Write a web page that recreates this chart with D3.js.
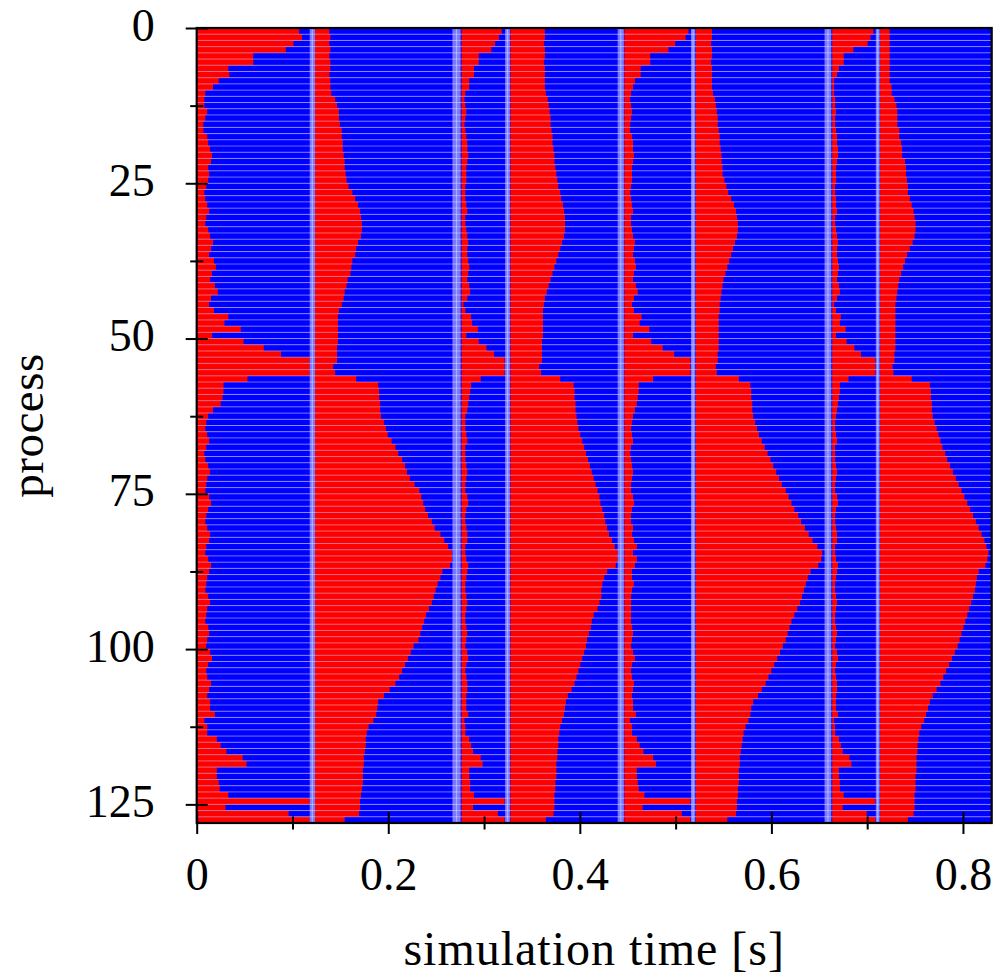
<!DOCTYPE html>
<html><head><meta charset="utf-8">
<script src="https://cdn.jsdelivr.net/npm/d3@7"></script>
<style>body{margin:0;background:#fff}svg{display:block}</style>
</head><body>
<svg id="c" width="994" height="977"></svg>
<script>
// ---------------- data ----------------
const processes = d3.range(128);
const xTicks = [0, 0.2, 0.4, 0.6, 0.8];
const xMinorTicks = [0.1, 0.3, 0.5, 0.7];
const yTicks = [0, 25, 50, 75, 100, 125];
const yMinorTicks = [12.5, 37.5, 62.5, 87.5, 112.5];
const xLabel = "simulation time [s]";
const yLabel = "process";
// start time (s) of each compute phase: small1, bulge1, small2, bulge2, small3, bulge3, small4, bulge4
const phaseStarts = [0, 0.1235, 0.2765, 0.3275, 0.4465, 0.521, 0.6635, 0.7135];
// synchronisation stripes [t0, t1] (s)
const syncStripes = [[0.118,0.1235],[0.267,0.2755],[0.322,0.327],[0.4395,0.446],[0.516,0.5205],[0.6555,0.6625],[0.709,0.713]];
// compute durations per process (ms)
const small1 = [107,110,101,93,59,59,33,34,23,17, 9,8,8,11,9,7,7,11,12,14, 16,15,12,13,12,10,8,9,11,13,
  10,9,12,14,17,15,13,18,20,16, 14,19,22,15,13,18,33,29,46,16, 49,70,88,118,118,118,53,28,28,27,
  25,17,12,10,9,11,13,10,8,9, 12,14,11,10,9,13,15,12,10,9, 11,14,13,10,9,12,15,13,11,10,
  9,12,14,11,10,9,12,13,11,10, 14,16,12,10,11,15,13,11,14,14, 19,8,11,11,21,25,31,48,52,21,
  21,23,24,33,118,30,96,118];
const bulge1 = [15,16,15,16,15,16,16,15,16,16, 17,21,23,25,25,26,28,28,29,29, 30,31,31,32,33,35,39,42,45,47,
  48,49,49,48,45,43,42,39,38,37, 34,33,31,30,28,25,24,24,24,24, 24,23,23,23,19,21,43,66,67,67,
  68,68,69,72,74,76,80,84,87,91, 94,96,99,104,109,111,113,115,118,122, 125,131,135,139,143,143,141,133,131,128,
  126,124,122,119,116,114,112,110,108,103, 100,97,94,91,88,84,78,72,66,65, 64,61,56,54,53,53,52,51,51,50,
  50,50,49,48,47,47,46,31];
const small2 = [42,39,35,31,18,18,13,13,8,8, 4,3,4,5,4,3,4,5,6,6, 7,6,5,5,5,4,4,4,5,6,
  4,4,5,6,7,6,6,7,8,7, 6,8,9,6,2,4,10,11,17,5, 18,26,34,45,45,45,20,10,9,8,
  7,6,4,4,4,5,6,4,4,4, 5,6,5,4,4,6,7,5,4,4, 5,6,6,4,4,5,7,6,5,4,
  4,5,6,5,4,4,5,6,5,4, 6,7,5,4,5,6,6,5,5,5, 7,3,4,4,8,10,12,20,22,8,
  8,9,9,13,45,12,38,45];
const bulge2 = [36,36,35,36,36,35,36,36,36,36, 37,39,40,41,42,42,43,44,44,45, 46,46,47,48,49,50,52,53,55,56,
  57,57,57,56,54,52,50,48,46,44, 42,40,38,36,35,34,34,34,34,34, 33,33,33,33,30,32,52,66,67,67,
  68,68,69,70,71,73,75,77,79,81, 83,85,87,89,91,93,94,96,98,99, 101,103,106,109,112,112,110,101,98,96,
  95,95,93,91,87,85,84,82,80,79, 77,75,73,71,69,67,64,60,58,57, 56,54,52,51,50,50,49,49,48,48,
  48,47,47,46,46,46,45,37];
const small3 = [67,64,53,46,27,27,17,17,11,9, 7,6,7,8,7,6,6,8,9,9, 10,9,8,8,8,7,6,7,8,9,
  7,7,8,9,11,10,9,11,12,10, 9,12,14,10,8,10,18,16,26,9, 28,40,52,69,69,69,30,15,15,14,
  13,11,9,8,7,8,9,7,6,7, 8,9,8,7,7,9,10,8,7,7, 9,8,10,13,9,13,11,8,8,10,
  8,7,7,7,7,7,8,9,8,7, 9,11,8,7,8,10,9,8,9,9, 12,6,8,8,13,16,20,30,33,13,
  13,14,15,21,69,19,60,69];
const bulge3 = [17,17,16,17,17,16,17,17,17,17, 18,20,21,22,23,23,24,25,25,26, 27,27,28,28,30,32,34,37,40,42,
  43,44,44,43,41,39,37,35,33,31, 29,28,27,26,25,25,24,24,24,24, 24,24,23,23,21,22,45,57,58,58,
  59,59,60,62,64,66,69,72,75,78, 81,84,87,90,94,97,100,103,107,110, 114,118,122,127,132,131,128,120,117,115,
  113,111,109,106,103,100,98,96,94,91, 88,85,82,79,76,73,69,65,60,58, 57,55,52,50,49,48,47,46,46,45,
  45,45,44,44,43,43,42,33];
const small4 = [43,40,37,22,12,12,7,5,2,2, 2,3,3,4,3,3,4,5,5,6, 6,5,4,4,4,3,3,4,4,5,
  3,3,4,5,6,5,5,6,7,6, 5,7,8,5,2,4,9,8,14,4, 15,23,30,45,45,45,17,8,8,7,
  6,5,4,3,3,4,5,3,3,3, 4,5,4,3,3,5,6,4,3,3, 4,5,5,3,3,4,6,5,4,3,
  3,4,5,4,3,3,4,5,4,3, 5,6,4,3,4,5,5,4,4,4, 6,2,3,3,7,9,11,18,20,7,
  7,8,8,12,45,11,36,45];
const bulge4 = [10,10,10,10,10,10,10,10,10,12, 12,15,17,18,18,18,20,20,22,23, 23,26,27,27,28,29,29,31,33,35,
  36,37,37,36,34,31,28,26,24,22, 20,19,18,17,16,16,16,16,16,16, 16,16,15,15,13,14,33,52,53,53,
  54,54,55,57,59,61,63,65,68,70, 73,76,79,82,85,88,91,94,97,100, 103,106,109,111,113,112,110,103,101,100,
  99,97,95,93,91,89,87,85,83,81, 78,75,72,69,66,63,59,55,52,50, 48,46,43,41,40,39,39,38,38,38,
  37,37,37,36,36,36,35,29];
const computePhases = [small1, bulge1, small2, bulge2, small3, bulge3, small4, bulge4];
const tMax = 0.83;

// ---------------- drawing ----------------
const svg = d3.select('#c');
const x = d3.scaleLinear().domain([0, tMax]).range([196.7, 991.7]);
const y = d3.scaleLinear().domain([0, 128]).range([28, 823]);
const rowH = y(1) - y(0);
const FONT = "'Liberation Serif', 'Times New Roman', serif";

// waiting (blue) background per process
svg.append('g').selectAll('rect').data(processes).join('rect')
  .attr('x', x(0)).attr('y', d => y(d)).attr('width', x(tMax) - x(0)).attr('height', rowH)
  .attr('fill', '#0000ff');

// compute (red) segments
const segs = [];
computePhases.forEach((arr, k) => arr.forEach((ms, p) => segs.push({p, t0: phaseStarts[k], t1: phaseStarts[k] + ms / 1000})));
svg.append('g').selectAll('rect').data(segs).join('rect')
  .attr('x', d => x(d.t0)).attr('y', d => y(d.p)).attr('width', d => x(d.t1) - x(d.t0)).attr('height', rowH)
  .attr('fill', '#ff0000');

// sync stripes
const sg = svg.append('g');
sg.selectAll('rect').data(syncStripes).join('rect')
  .attr('x', d => x(d[0])).attr('y', y(0)).attr('width', d => x(d[1]) - x(d[0])).attr('height', y(128) - y(0))
  .attr('fill', '#7676ff');
sg.selectAll('line').data(syncStripes).join('line')
  .attr('x1', d => x((d[0] + d[1]) / 2)).attr('x2', d => x((d[0] + d[1]) / 2))
  .attr('y1', y(0)).attr('y2', y(128)).attr('stroke', '#a8a8ff').attr('stroke-width', 1.2);

// row separators
svg.append('g').selectAll('line').data(d3.range(1, 128)).join('line')
  .attr('x1', x(0)).attr('x2', x(tMax)).attr('y1', d => y(d)).attr('y2', d => y(d))
  .attr('stroke', '#ffffff').attr('stroke-opacity', 0.4).attr('stroke-width', 1);

// frame
svg.append('rect').attr('x', x(0)).attr('y', y(0)).attr('width', x(tMax) - x(0)).attr('height', y(128) - y(0))
  .attr('fill', 'none').attr('stroke', '#000').attr('stroke-width', 2.2);

// x axis
const xAxisG = svg.append('g').attr('transform', `translate(0,${y(128)})`)
  .call(d3.axisBottom(x).tickValues(xTicks).tickFormat(d => d === 0 ? '0' : d3.format('.1f')(d)));
xAxisG.select('.domain').remove();
xAxisG.selectAll('.tick line').attr('y1', -11).attr('y2', 11).attr('stroke', '#000').attr('stroke-width', 2);
xAxisG.selectAll('.tick text').attr('y', 67).attr('dy', 0).attr('font-family', FONT).attr('font-size', 46).attr('fill', '#000');
const xMinG = svg.append('g').attr('transform', `translate(0,${y(128)})`)
  .call(d3.axisBottom(x).tickValues(xMinorTicks).tickFormat(''));
xMinG.select('.domain').remove();
xMinG.selectAll('.tick line').attr('y1', -6.5).attr('y2', 6.5).attr('stroke', '#000').attr('stroke-width', 2);

// y axis
const yAxisG = svg.append('g').attr('transform', `translate(${x(0)},0)`)
  .call(d3.axisLeft(y).tickValues(yTicks).tickFormat(d3.format('d')));
yAxisG.select('.domain').remove();
yAxisG.selectAll('.tick line').attr('x1', -11).attr('x2', 11).attr('stroke', '#000').attr('stroke-width', 2);
yAxisG.selectAll('.tick text').attr('x', -42).attr('dy', 12).attr('font-family', FONT).attr('font-size', 46).attr('fill', '#000');
const yMinG = svg.append('g').attr('transform', `translate(${x(0)},0)`)
  .call(d3.axisLeft(y).tickValues(yMinorTicks).tickFormat(''));
yMinG.select('.domain').remove();
yMinG.selectAll('.tick line').attr('x1', -6.5).attr('x2', 6.5).attr('stroke', '#000').attr('stroke-width', 2);

// axis titles
svg.append('text').attr('x', (x(0) + x(tMax)) / 2).attr('y', 965).attr('text-anchor', 'middle')
  .attr('font-family', FONT).attr('font-size', 48).attr('letter-spacing', 1).attr('fill', '#000').text(xLabel);
svg.append('text').attr('transform', `translate(43,${(y(0) + y(128)) / 2}) rotate(-90)`).attr('text-anchor', 'middle')
  .attr('font-family', FONT).attr('font-size', 47).attr('letter-spacing', 0.5).attr('fill', '#000').text(yLabel);
</script>
</body></html>
